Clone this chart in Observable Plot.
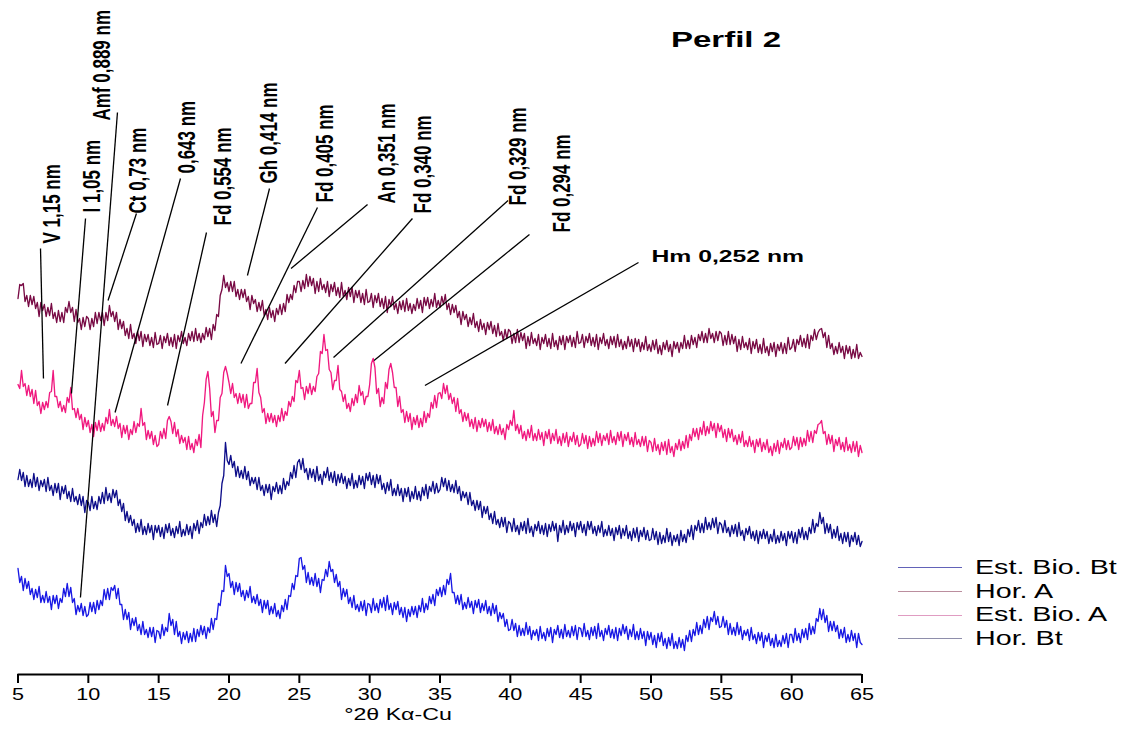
<!DOCTYPE html>
<html>
<head>
<meta charset="utf-8">
<script src="https://cdn.jsdelivr.net/npm/d3@7"></script>
<script src="https://cdn.jsdelivr.net/npm/@observablehq/plot@0.6"></script>
<style>
  body { margin: 0; background: #fff; }
  #wrap { position: relative; width: 1130px; height: 731px; overflow: hidden; font-family: "Liberation Sans", Arial, sans-serif; }
  #chart { position: absolute; left: 0; top: 0; }
  #title { position: absolute; left: 671px; top: 29px; font-weight: bold; font-size: 22px; line-height: 1; transform: scaleX(1.5); transform-origin: 0 0; white-space: nowrap; }
  #legend { position: absolute; left: 898px; top: 556px; }
  .row { display: flex; align-items: center; height: 23.7px; }
  .sw { width: 64px; height: 0; border-top: 1.6px solid; margin-right: 13px; }
  .lab { font-size: 19.5px; line-height: 1; transform: scaleX(1.47); transform-origin: 0 50%; white-space: nowrap; }
</style>
</head>
<body>
<div id="wrap">
  <div id="chart"></div>
  <div id="title"></div>
  <div id="legend"></div>
</div>
<script>
// ---- Data ----
const titleText = "Perfil 2";
const axisTitle = "°2θ Kα-Cu";
const xTicks = [5, 10, 15, 20, 25, 30, 35, 40, 45, 50, 55, 60, 65];

// sampling grid of the diffractograms (°2θ)
const thetaStart = 5;
const thetaStep = 0.125;

const seriesNames = ["Hor. A", "Est. Bio. A", "Hor. Bt", "Est. Bio. Bt"];
const seriesColors = ["#780a44", "#f0197f", "#0e0e8a", "#1818e4"];

const legendNames = ["Est. Bio. Bt", "Hor. A", "Est. Bio. A", "Hor. Bt"];
const legendColors = ["#6262b8", "#bb8e9e", "#e09cc2", "#8e8eab"];

// intensities (arbitrary units, stacked as drawn), one row = 5 °2θ
const horA = [
  376,390,389,391,373,379,368,379,370,378,366,372,358,372,364,370,358,367,359,371,356,362,352,364,353,362,352,367,362,373,362,367,353,365,352,356,345,357,348,358,
  356,345,356,348,362,351,362,354,362,349,362,354,369,358,363,353,362,345,355,346,353,339,346,336,350,336,341,331,343,334,343,328,340,333,340,329,337,327,342,330,
  331,339,326,338,332,341,329,337,328,340,326,339,333,343,331,337,329,341,334,343,333,346,334,341,332,341,335,347,338,346,335,350,344,360,358,379,385,399,387,392,
  383,393,383,393,378,385,375,385,377,385,373,378,365,379,371,375,363,372,364,374,359,365,355,367,357,364,353,366,360,370,360,371,363,380,372,380,375,389,382,393,
  393,383,394,386,400,388,398,389,396,381,393,383,396,385,390,382,393,378,390,383,392,379,387,377,392,378,384,375,387,378,387,372,384,377,384,372,381,370,385,372,
  373,381,367,379,372,381,368,376,366,378,362,375,368,378,365,371,361,373,365,374,363,376,364,371,361,370,364,376,366,374,362,377,369,377,366,375,368,381,367,374,
  367,378,370,380,365,371,360,370,362,369,357,363,350,363,355,360,348,357,350,361,347,353,343,355,345,351,340,352,345,353,341,349,338,351,339,343,334,345,336,345,
  343,331,341,332,345,332,342,334,341,326,338,329,342,331,336,329,340,325,337,331,340,328,336,326,341,328,334,325,338,330,339,325,338,332,339,328,337,327,343,331,
  332,340,327,338,332,341,329,337,328,340,325,337,331,341,329,335,326,338,330,338,327,340,328,335,325,333,326,338,328,335,323,336,328,335,323,332,325,338,324,330,
  323,334,325,335,321,329,320,332,325,334,323,330,318,333,326,332,322,332,326,339,326,334,326,339,330,337,327,340,334,343,332,341,332,346,336,341,332,343,334,343,
  341,329,339,330,343,330,340,331,338,323,335,325,338,327,332,325,336,321,333,326,335,322,330,321,336,322,328,319,331,323,332,318,330,324,332,321,331,321,337,325,
  327,335,323,335,330,339,328,336,327,340,326,339,334,345,335,342,345,346,337,342,327,339,326,331,320,328,321,332,322,328,316,329,321,328,316,325,317,330,316,322,
  318
];
const estBioA = [
  290,286,304,288,291,279,289,278,285,271,284,269,273,261,272,265,273,267,282,283,304,278,278,267,273,263,269,262,277,272,287,265,266,257,266,255,260,245,257,248,
  254,242,250,238,252,244,254,243,251,244,257,251,265,249,255,248,258,246,251,237,249,241,249,235,245,240,253,242,251,248,266,249,252,235,244,236,243,230,239,228,
  230,243,236,246,236,254,258,253,241,252,238,245,231,239,232,237,225,238,225,231,222,235,229,240,227,259,272,295,303,286,258,263,242,254,254,277,281,302,308,301,
  292,281,291,277,281,271,281,272,280,267,280,266,271,271,292,292,306,282,277,262,266,251,261,253,261,252,259,248,259,253,266,254,263,259,273,268,278,273,294,292,
  304,286,287,275,288,281,291,280,288,283,298,301,323,321,340,324,325,305,302,285,294,294,309,285,283,273,280,266,271,263,276,269,280,272,289,279,283,270,278,278,
  290,311,316,307,281,286,268,277,271,292,286,305,311,302,287,287,268,278,262,265,252,263,253,261,245,257,250,259,247,256,248,263,252,261,257,272,266,279,267,281,
  282,276,291,281,289,275,281,271,277,263,276,261,265,253,262,254,261,248,255,246,257,243,254,247,256,248,255,243,252,244,255,241,248,240,250,240,246,235,250,245,
  254,249,264,244,250,241,249,236,243,234,245,237,249,234,241,234,245,235,242,229,243,236,245,231,241,234,245,231,238,229,241,232,242,228,238,233,242,230,239,228,
  230,241,231,239,226,238,228,236,229,243,232,241,229,239,234,241,230,244,232,238,230,242,234,243,228,240,234,242,230,237,228,242,230,235,228,238,229,238,223,234,
  232,223,236,224,230,220,232,224,233,220,235,222,228,218,231,225,235,224,233,226,239,227,240,234,246,238,246,235,247,240,253,239,248,241,253,244,251,237,251,243,
  249,237,245,233,246,237,245,233,239,230,240,232,243,228,234,228,238,228,234,222,235,228,236,223,232,225,235,222,228,219,231,223,234,221,232,227,236,225,234,225,
  227,238,229,237,225,237,228,236,229,244,233,243,232,244,241,250,251,254,241,243,230,240,231,239,223,235,229,237,225,232,223,237,224,230,222,233,223,233,218,229,
  222
];
const horBt = [
  195,205,194,202,188,199,188,195,187,201,188,197,184,194,188,195,183,197,184,189,179,191,182,191,175,188,181,189,176,183,173,186,173,178,170,180,169,178,162,174,
  172,164,178,166,173,165,178,171,182,171,187,174,181,172,185,177,184,169,175,163,171,154,163,152,159,149,155,142,151,143,155,140,148,140,151,142,149,135,149,142,
  149,138,147,136,150,142,151,139,146,137,148,141,153,138,145,139,150,140,148,136,151,144,154,141,152,147,160,149,158,150,164,152,160,148,162,169,191,199,232,214,
  210,219,207,213,198,208,197,204,196,208,195,203,189,197,191,197,185,197,184,189,179,190,182,190,175,188,183,192,181,189,181,196,185,193,189,202,196,209,197,212,
  215,205,216,202,206,195,206,197,205,193,208,194,200,190,203,197,207,194,202,192,203,189,200,192,201,191,198,186,196,189,201,186,194,187,199,190,198,186,201,194,
  202,190,199,187,200,191,199,185,191,181,192,184,195,179,186,179,190,179,186,173,186,178,187,173,183,176,188,175,183,174,187,179,190,176,188,183,193,181,191,182,
  185,197,188,196,184,194,183,190,182,194,181,188,174,183,177,182,170,182,169,174,164,174,165,173,157,168,161,168,155,161,151,163,150,155,147,157,148,157,142,153,
  151,143,156,143,149,140,152,144,153,141,156,142,148,138,150,144,153,141,149,140,151,138,150,143,153,144,151,133,149,142,154,140,149,142,153,144,151,138,152,145,
  153,142,150,139,153,145,153,141,148,139,149,142,153,138,145,139,149,139,146,134,147,140,149,136,146,139,149,136,143,134,146,137,147,133,144,138,147,135,144,134,
  135,146,135,143,130,142,131,139,132,146,133,142,129,139,133,140,129,144,133,140,132,145,138,149,135,149,144,154,142,151,142,157,145,152,145,156,147,157,141,152,
  150,142,154,142,147,138,149,141,150,138,152,139,144,134,146,140,148,136,143,134,144,131,143,136,145,136,143,131,140,133,145,131,139,132,143,134,141,129,143,136,
  143,132,142,131,145,137,147,135,143,135,147,141,155,142,151,148,162,151,157,141,151,142,150,136,145,137,148,134,141,131,142,133,142,128,139,133,142,130,139,128,
  133
];
const estBioBt = [
  106,92,98,84,96,86,93,80,86,75,85,77,88,72,79,72,83,72,78,65,79,71,79,66,76,72,86,78,91,78,87,72,76,60,69,63,71,59,68,58,
  60,72,63,72,61,74,65,74,69,85,75,86,75,87,84,89,76,86,70,70,55,65,55,62,45,56,49,57,44,50,40,53,40,45,37,47,38,47,32,44,
  43,36,50,39,47,43,61,49,55,40,53,38,43,31,42,35,43,32,41,33,46,33,45,38,49,40,48,36,47,42,56,45,56,55,71,69,84,83,109,98,
  101,87,93,80,92,83,91,78,84,74,84,77,88,72,78,71,80,69,75,62,74,66,74,60,68,61,71,58,64,56,69,63,75,65,79,78,91,85,99,98,
  116,117,105,109,92,102,90,97,89,101,88,96,82,95,94,105,98,113,103,105,92,100,88,93,75,86,78,85,71,77,67,79,65,70,63,73,64,74,59,71,
  70,62,76,64,71,62,75,67,77,64,79,65,71,60,72,65,73,60,67,57,67,53,65,58,68,60,68,57,69,63,76,62,71,65,78,71,80,69,85,79,
  87,78,89,80,95,90,101,82,82,71,79,70,80,65,72,66,77,67,73,61,74,67,75,62,71,64,74,61,68,59,71,61,69,53,62,56,61,48,55,44,
  45,55,44,51,38,49,39,46,39,52,40,48,35,44,39,45,34,48,36,42,34,46,38,47,32,45,40,49,37,45,36,50,38,44,37,48,39,49,35,47,
  46,38,51,38,44,35,47,39,48,36,51,38,44,34,46,40,49,37,45,36,47,34,46,39,50,41,48,35,45,38,50,35,43,35,46,36,43,29,43,35,
  42,30,39,27,41,33,42,29,36,26,37,29,41,26,33,26,37,27,35,24,39,33,44,33,45,39,52,40,49,41,55,47,58,45,57,53,63,50,58,47,
  48,58,47,54,40,51,40,47,39,52,40,48,35,44,39,45,34,47,35,40,31,42,34,42,27,39,33,41,29,36,27,40,28,34,28,39,31,41,27,40,
  40,32,46,34,41,32,45,37,46,35,51,40,48,41,56,53,66,55,65,52,59,43,53,44,53,43,49,36,45,37,47,32,40,33,44,34,41,27,41,32,
  30
];

// peak annotations (vertical labels)
const peakText = ["V 1,15 nm", "I 1,05 nm", "Amf 0,889 nm", "Ct 0,73 nm", "0,643 nm", "Fd 0,554 nm",
  "Gh 0,414 nm", "Fd 0,405 nm", "An 0,351 nm", "Fd 0,340 nm", "Fd 0,329 nm", "Fd 0,294 nm"];
const peakTextTheta = [7.45, 10.30, 11.01, 13.57, 17.05, 19.61, 22.88, 26.86, 31.27, 33.83, 40.58, 43.71];
const peakTextLevel = [431, 462, 554, 461, 501, 449, 491, 472, 471, 461, 469, 442];
// horizontal label
const hmText = ["Hm 0,252 nm"];
const hmTheta = [50.03];
const hmLevel = [418];
// leader lines: label end -> peak end (all 13, last one = Hm)
const leaderFromTheta = [6.60, 9.80, 12.07, 13.42, 16.55, 18.40, 22.88, 26.29, 29.85, 33.04, 39.84, 41.36, 49.11];
const leaderFromLevel = [426, 456, 562, 461, 496, 442, 486, 467, 470, 456, 474, 440, 412];
const leaderToTheta = [6.81, 8.80, 9.44, 11.40, 11.90, 15.63, 21.31, 20.85, 24.41, 23.98, 27.43, 30.31, 33.93];
const leaderToLevel = [296, 281, 77, 374, 262, 269, 399, 311, 406, 311, 317, 314, 289];

// ---- Build tables ----
const seriesValues = [horA, estBioA, horBt, estBioBt];
const rows = [];
seriesValues.forEach((vals, s) => {
  vals.forEach((v, i) => rows.push({series: seriesNames[s], theta: thetaStart + i * thetaStep, intensity: v}));
});
const peaks = peakText.map((t, i) => ({text: t, theta: peakTextTheta[i], level: peakTextLevel[i]}));
const hm = hmText.map((t, i) => ({text: t, theta: hmTheta[i], level: hmLevel[i]}));
const leaders = leaderFromTheta.map((t, i) => ({x1: t, y1: leaderFromLevel[i], x2: leaderToTheta[i], y2: leaderToLevel[i]}));

const font = "Liberation Sans, Arial, Helvetica, sans-serif";

const chart = Plot.plot({
  width: 1130,
  height: 731,
  marginLeft: 17.5,
  marginRight: 268.5,
  marginTop: 0,
  marginBottom: 57,
  x: {domain: [5, 65]},
  y: {domain: [0, 674], axis: null},
  color: {domain: seriesNames, range: seriesColors},
  style: {background: "transparent", fontFamily: font, color: "#000"},
  marks: [
    Plot.line(rows, {x: "theta", y: "intensity", z: "series", stroke: "series", strokeWidth: 1.35}),
    Plot.link(leaders, {x1: "x1", y1: "y1", x2: "x2", y2: "y2", stroke: "#000", strokeWidth: 1.3}),
    Plot.text(peaks, {x: "theta", y: "level", text: "text", rotate: -90, textAnchor: "start",
      fontSize: 17, fontWeight: "bold", fill: "#000"}),
    Plot.text(hm, {x: "theta", y: "level", text: "text", textAnchor: "start",
      fontSize: 16.5, fontWeight: "bold", fill: "#000"}),
    Plot.ruleY([0], {stroke: "#000", strokeWidth: 2}),
    Plot.axisX(xTicks, {tickSize: 9, tickPadding: 5, fontSize: 16, strokeWidth: 2, label: null, stroke: "#000", fill: "#000"}),
    Plot.text([axisTitle], {frameAnchor: "bottom", dx: -42, dy: 45, fontSize: 16, fill: "#000"})
  ]
});
document.getElementById("chart").appendChild(chart);

// horizontal stretch of texts (the original picture is widened): wrap each text
// in a group that scales x about the text's own anchor point
const SVGNS = "http://www.w3.org/2000/svg";
function stretchText(t, s) {
  const tr = t.getAttribute("transform") || "";
  const m = /translate\(\s*([-\d.eE+]+)(?:[\s,]+([-\d.eE+]+))?\s*\)/.exec(tr);
  let ax, ay;
  if (m) { ax = +m[1]; ay = m[2] !== undefined ? +m[2] : 0; }
  else { ax = parseFloat(t.getAttribute("x")) || 0; ay = parseFloat(t.getAttribute("y")) || 0; }
  const g = document.createElementNS(SVGNS, "g");
  g.setAttribute("transform", `translate(${ax},${ay}) scale(${s},1) translate(${-ax},${-ay})`);
  t.parentNode.insertBefore(g, t);
  g.appendChild(t);
}
const tickStrings = xTicks.map(String);
Array.from(chart.querySelectorAll("text")).forEach((t) => {
  const s = t.textContent;
  if (peakText.includes(s)) stretchText(t, 1.4);
  else if (hmText.includes(s)) stretchText(t, 1.5);
  else if (s === axisTitle) stretchText(t, 1.45);
  else if (tickStrings.includes(s)) stretchText(t, 1.35);
});

// title and legend
document.getElementById("title").textContent = titleText;
const legend = document.getElementById("legend");
legendNames.forEach((name, i) => {
  const row = document.createElement("div");
  row.className = "row";
  const sw = document.createElement("div");
  sw.className = "sw";
  sw.style.borderTopColor = legendColors[i];
  const lab = document.createElement("div");
  lab.className = "lab";
  lab.textContent = name;
  row.appendChild(sw);
  row.appendChild(lab);
  legend.appendChild(row);
});
</script>
</body>
</html>
